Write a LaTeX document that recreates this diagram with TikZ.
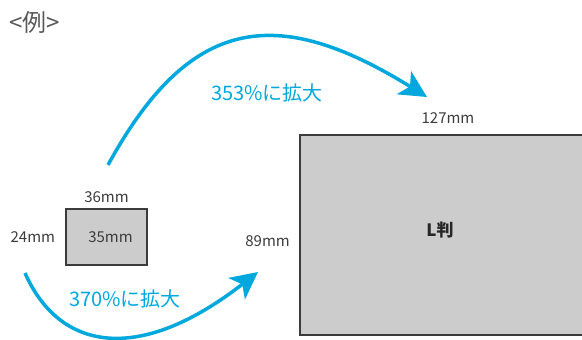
\documentclass[tikz,border=0pt]{standalone}
\usepackage{fontspec}
\setmainfont{Noto Sans CJK JP}
\usepackage{tikz}
\usepackage{xcolor}
\usetikzlibrary{arrows.meta,positioning}

\definecolor{zoomblue}{RGB}{0,168,222}
\definecolor{dimgray}{RGB}{60,60,60}
\definecolor{paper}{RGB}{204,204,204}

\begin{document}
\begin{tikzpicture}[
  x=1pt, y=-1pt,
  node distance=6pt,
  photo/.style={draw=dimgray, line width=1.4pt, fill=paper, inner sep=0pt},
  dim/.style={font=\fontsize{15}{15}\selectfont, text=dimgray, inner sep=1pt},
  zoomtext/.style={font=\fontsize{20}{20}\selectfont, text=zoomblue},
  zoomarrow/.style={draw=zoomblue, line width=3.5pt, -{Stealth[length=27pt, width=27pt, inset=7pt]}}
]
\useasboundingbox (0,0) rectangle (582,340);
\node[text=black!65, font=\fontsize{24}{24}\selectfont] (title) at (35,22) {<例>};
% small 35mm frame
\node[photo, minimum width=81pt, minimum height=56pt, text=dimgray, font=\fontsize{15}{15}\selectfont] (film) at (106.5,237) {\hspace{8pt}35mm};
\node[dim, above=4pt of film] (filmw) {36mm};
\node[dim, left=9pt of film] (filmh) {24mm};
% L size print, cut off at the right
\node[photo, minimum width=360pt, minimum height=200pt] (lsize) at (480,235) {};
\node[font=\bfseries\fontsize{17}{17}\selectfont, text=black!85] (lname) at (440,230) {L判};
\node[dim] (lsizew) at (448,118) {127mm};
\node[dim, anchor=east] (lsizeh) at (291,241) {89mm};
% arrows
\coordinate (upstart) at (108,165);
\coordinate (upend) at (427,97);
\coordinate (lowstart) at (25,273);
\coordinate (lowend) at (258,272);
\draw[zoomarrow] (upstart) .. controls (190,15) and (277,4) .. (upend);
\draw[zoomarrow] (lowstart) .. controls (60,352) and (140,364) .. (lowend);
\node[zoomtext] (upratio) at (267,93) {353\%に拡大};
\node[zoomtext] (lowratio) at (125,299) {370\%に拡大};
\end{tikzpicture}
\end{document}
